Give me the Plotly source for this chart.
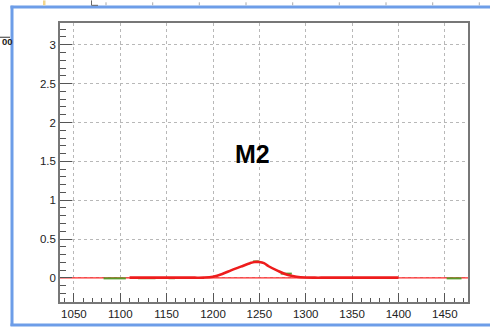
import plotly.graph_objects as go

# Fitted line shape of the M2 peak (x in channel units, y in arbitrary units)
fit_x = [1110, 1120, 1130, 1140, 1150, 1160, 1170, 1180, 1190, 1200, 1210, 1220,
         1230, 1240, 1245, 1250, 1255, 1260, 1270, 1280, 1290, 1300, 1310, 1320,
         1330, 1340, 1350, 1360, 1370, 1380, 1390, 1400]
fit_y = [0.003, 0.003, 0.003, 0.003, 0.003, 0.003, 0.003, 0.003, 0.004, 0.015, 0.05, 0.10,
         0.145, 0.19, 0.205, 0.205, 0.19, 0.15, 0.09, 0.04, 0.015, 0.005, 0.003, 0.003,
         0.003, 0.003, 0.003, 0.003, 0.003, 0.003, 0.003, 0.003]

# Function baseline drawn over the full axis range
base_x = [1035, 1475]
base_y = [0.0, 0.0]

# Measured histogram pieces (segments separated by None)
hist_x = [1082, 1106, None, 1119, 1138, None, 1152, 1159, None,
          1243, 1250, None, 1273, 1285, None, 1452, 1468]
hist_y = [-0.006, -0.006, None, -0.004, -0.004, None, -0.004, -0.004, None,
          0.212, 0.212, None, 0.055, 0.055, None, -0.006, -0.006]

x_range = [1035, 1475]
y_range = [-0.31, 3.28]

W, H = 490, 332
ML, MR, MT, MB = 60, 22, 23, 25
PW, PH = W - ML - MR, H - MT - MB


def px(x):
    return (x - ML) / PW


def py(y):
    return (H - MB - y) / PH


fig = go.Figure()
fig.add_trace(go.Scatter(x=base_x, y=base_y, mode="lines",
                         line=dict(color="#ff2a2a", width=1.2), hoverinfo="skip"))
fig.add_trace(go.Scatter(x=hist_x, y=hist_y, mode="lines",
                         line=dict(color="#5a9a2a", width=2), hoverinfo="skip",
                         connectgaps=False))
fig.add_trace(go.Scatter(x=fit_x, y=fit_y, mode="lines",
                         line=dict(color="#ee1c1c", width=2.6, shape="spline"),
                         hoverinfo="skip"))

axis_common = dict(
    showline=True, linecolor="#777777", linewidth=1.5, mirror=True,
    ticks="inside", tickcolor="#555555", tickwidth=1.2,
    showgrid=True, gridcolor="#b8b8b8", griddash="dot", gridwidth=1,
    zeroline=False,
    tickfont=dict(family="Liberation Sans, Arial, sans-serif", size=11.5, color="#222222"),
)

fig.update_xaxes(range=x_range, dtick=50, tick0=1050, ticklen=9,
                 minor=dict(dtick=10, ticks="inside", ticklen=4, tickcolor="#555555", showgrid=False),
                 **axis_common)
fig.update_yaxes(range=y_range, dtick=0.5, tick0=0, ticklen=12,
                 minor=dict(dtick=0.1, ticks="inside", ticklen=6, tickcolor="#555555", showgrid=False),
                 **axis_common)

FRAME = "#6d9de8"
shapes = []
# window frame: left, top and bottom edges (right edge lies beyond the view)
for (xa, ya, xb, yb) in [(12, 5.5, 12, 331.5), (10.5, 6.8, 490, 6.8), (10.5, 330.3, 490, 330.3)]:
    shapes.append(dict(type="line", xref="paper", yref="paper",
                       x0=px(xa), y0=py(ya), x1=px(xb), y1=py(yb),
                       line=dict(color=FRAME, width=3), layer="above"))
# pieces of the window behind
shapes.append(dict(type="rect", xref="paper", yref="paper",
                   x0=px(43), x1=px(45.5), y0=py(5), y1=py(0),
                   line=dict(width=0), fillcolor="#f3d68c", layer="above"))
shapes.append(dict(type="line", xref="paper", yref="paper",
                   x0=px(91.5), x1=px(91.5), y0=py(5), y1=py(0),
                   line=dict(color="#666666", width=1), layer="above"))
shapes.append(dict(type="line", xref="paper", yref="paper",
                   x0=px(91.5), x1=px(98), y0=py(5), y1=py(5),
                   line=dict(color="#666666", width=1), layer="above"))
for gx in [106, 152.7, 199.3, 246, 292.7, 339.3, 386, 432.7, 479.3]:
    shapes.append(dict(type="line", xref="paper", yref="paper",
                       x0=px(gx), x1=px(gx), y0=py(5), y1=py(0),
                       line=dict(color="#aaaaaa", width=1, dash="dot"), layer="above"))
shapes.append(dict(type="line", xref="paper", yref="paper",
                   x0=px(0), x1=px(10), y0=py(37.5), y1=py(37.5),
                   line=dict(color="#333333", width=1), layer="above"))

annotations = [
    dict(text="<b>M2</b>", xref="paper", yref="paper", x=px(252.5), y=py(156.5),
         xanchor="center", yanchor="middle", showarrow=False,
         font=dict(family="Liberation Sans, Arial, sans-serif", size=25, color="#000000")),
    dict(text="<b>00</b>", xref="paper", yref="paper", x=px(0), y=py(41.5),
         xanchor="left", yanchor="middle", showarrow=False,
         font=dict(family="Liberation Sans, Arial, sans-serif", size=9.5, color="#222222")),
]

fig.update_layout(
    width=W, height=H,
    margin=dict(l=ML, r=MR, t=MT, b=MB, pad=0),
    paper_bgcolor="white", plot_bgcolor="white",
    showlegend=False,
    shapes=shapes, annotations=annotations,
)

fig.write_html("out.html")
